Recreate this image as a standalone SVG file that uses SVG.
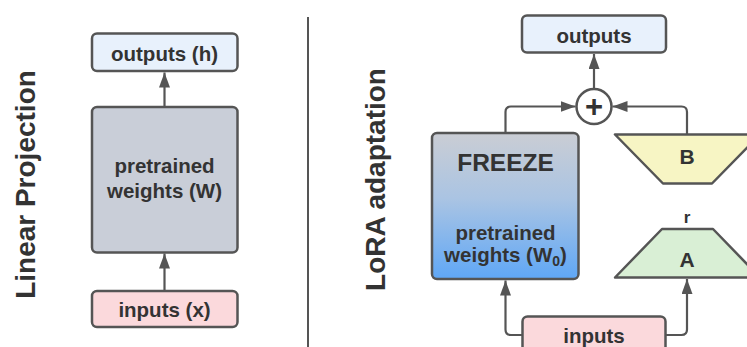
<svg xmlns="http://www.w3.org/2000/svg" width="747" height="347" viewBox="0 0 747 347">
  <defs>
    <linearGradient id="freezeFill" x1="0" y1="0" x2="0" y2="1">
      <stop offset="0" stop-color="#cacdd4"/>
      <stop offset="0.45" stop-color="#aac4e3"/>
      <stop offset="1" stop-color="#5fa7f6"/>
    </linearGradient>
    <marker id="arrow" markerUnits="userSpaceOnUse" markerWidth="16" markerHeight="12" refX="15" refY="5.5" orient="auto">
      <path d="M0,0 L15,5.5 L0,11 z" fill="#555"/>
    </marker>
    <style>
      .box { stroke: #555; stroke-width: 2.5; }
      .lbl { font-family: "Liberation Sans", Arial, sans-serif; font-weight: bold; fill: #333; text-anchor: middle; }
      .side { font-family: "Liberation Sans", Arial, sans-serif; font-weight: bold; fill: #333; text-anchor: middle; font-size: 28px; }
      .wire { fill: none; stroke: #555; stroke-width: 2.2; }
    </style>
  </defs>

  <rect width="747" height="347" fill="#ffffff"/>

  <!-- section titles -->
  <text class="side" transform="translate(35,184.5) rotate(-90)">Linear Projection</text>
  <text class="side" transform="translate(385,179.5) rotate(-90)">LoRA adaptation</text>

  <!-- divider -->
  <line x1="308" y1="17" x2="308" y2="347" stroke="#555" stroke-width="2"/>

  <!-- left: plain linear projection -->
  <g id="lin-outputs">
    <rect class="box" x="92" y="33.5" width="145.5" height="37.5" rx="5" fill="#e8f1fc"/>
    <text class="lbl" x="164.5" y="60.5" font-size="20.5">outputs (h)</text>
  </g>
  <g id="lin-weights">
    <rect class="box" x="92" y="107" width="145.5" height="145.5" rx="5" fill="#c9ced8"/>
    <text class="lbl" x="164.5" y="173" font-size="20.5">pretrained</text>
    <text class="lbl" x="164.5" y="197.5" font-size="20.5">weights (W)</text>
  </g>
  <g id="lin-inputs">
    <rect class="box" x="92" y="291" width="145.5" height="36" rx="5" fill="#fbd9dc"/>
    <text class="lbl" x="164.5" y="316.5" font-size="20.5">inputs (x)</text>
  </g>

  <!-- right: LoRA adaptation -->
  <g id="lora-outputs">
    <rect class="box" x="522" y="15.5" width="144" height="37" rx="5" fill="#e8f1fc"/>
    <text class="lbl" x="594" y="42.5" font-size="20.5">outputs</text>
  </g>
  <g id="lora-sum">
    <circle cx="594" cy="106.5" r="17.5" fill="#ffffff" stroke="#555" stroke-width="2.5"/>
    <text class="lbl" x="594" y="117" font-size="31">+</text>
  </g>
  <g id="lora-frozen">
    <rect class="box" x="432" y="133" width="146.5" height="146" rx="5" fill="url(#freezeFill)"/>
    <text class="lbl" x="505.5" y="170.5" font-size="24.5">FREEZE</text>
    <text class="lbl" x="505.5" y="240" font-size="20.5">pretrained</text>
    <text class="lbl" x="505.5" y="262" font-size="20.5">weights (W<tspan font-size="14" dy="3.5">0</tspan><tspan dy="-3.5">)</tspan></text>
  </g>
  <g id="lora-B">
    <polygon class="box" points="615,134.5 760,134.5 712,183.5 663,183.5" fill="#f7f5c4" stroke-linejoin="round"/>
    <text class="lbl" x="687" y="163.5" font-size="21">B</text>
  </g>
  <g id="lora-A">
    <text class="lbl" x="687" y="223" font-size="17">r</text>
    <polygon class="box" points="662,229 713,229 760,277.5 615,277.5" fill="#d9efd5" stroke-linejoin="round"/>
    <text class="lbl" x="687" y="266.5" font-size="21">A</text>
  </g>
  <g id="lora-inputs">
    <rect class="box" x="522.5" y="316.5" width="143" height="45" rx="5" fill="#fbd9dc"/>
    <text class="lbl" x="594" y="342.5" font-size="20.5">inputs</text>
  </g>

  <!-- connectors -->
  <g id="connectors">
    <path class="wire" d="M164.5,107 V72.5" marker-end="url(#arrow)"/>
    <path class="wire" d="M164.5,291 V253.5" marker-end="url(#arrow)"/>

    <path class="wire" d="M594,89 V54" marker-end="url(#arrow)"/>
    <path class="wire" d="M505.5,133 V112 Q505.5,106.5 511,106.5 H575.5" marker-end="url(#arrow)"/>
    <path class="wire" d="M687,134.5 V112 Q687,106.5 681.5,106.5 H612.5" marker-end="url(#arrow)"/>
    <path class="wire" d="M522.5,335 H511 Q505.5,335 505.5,329.5 V280.5" marker-end="url(#arrow)"/>
    <path class="wire" d="M665.5,335 H681.5 Q687,335 687,329.5 V279" marker-end="url(#arrow)"/>
  </g>
</svg>
